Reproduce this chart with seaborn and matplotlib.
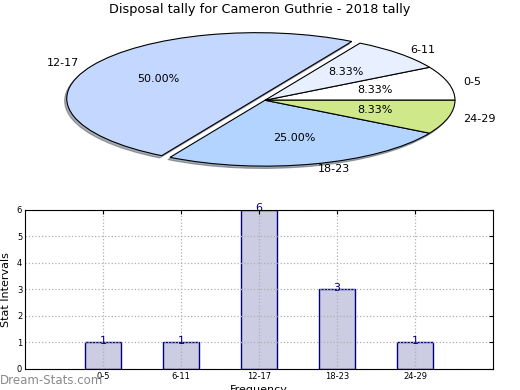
import matplotlib
matplotlib.use("Agg")
import matplotlib.pyplot as plt
import pandas as pd
import seaborn as sns

intervals = ["0-5", "6-11", "12-17", "18-23", "24-29"]
counts = [1, 1, 6, 3, 1]
pie_colors = ["#ffffff", "#e8f0ff", "#c4d8ff", "#b3d4ff", "#cfe88a"]
explode = [0, 0, 0.05, 0, 0]
title = "Disposal tally for Cameron Guthrie - 2018 tally"

sns.set_style("white")
plt.rcParams["font.family"] = ["DejaVu Sans"]
plt.rcParams["text.color"] = "black"
plt.rcParams["xtick.color"] = "black"
plt.rcParams["ytick.color"] = "black"
plt.rcParams["axes.labelcolor"] = "black"

fig = plt.figure(figsize=(5.2, 3.9), dpi=100)

# pie (ellipse: axes aspect not equal)
ax_pie = fig.add_axes([0.1442, 0.574, 0.7308, 0.338])
ax_pie.pie(counts, labels=intervals, colors=pie_colors, explode=explode,
           autopct="%.2f%%", pctdistance=0.6, labeldistance=1.08,
           startangle=0, counterclock=True,
           shadow={"ox": -0.008, "oy": -0.025, "shade": 0.6},
           wedgeprops={"edgecolor": "black", "linewidth": 0.8},
           textprops={"fontsize": 8})
ax_pie.set_xlim(-1, 1)
ax_pie.set_ylim(-1, 1)
ax_pie.set_aspect("auto")
ax_pie.axis("off")
fig.text(0.5, 0.975, title, ha="center", va="center", fontsize=9.3)

# bar chart
df = pd.DataFrame({"interval": intervals, "count": counts})
ax = fig.add_axes([0.048, 0.054, 0.9, 0.408])
sns.barplot(data=df, x="interval", y="count", color="#ccccE3", saturation=1,
            edgecolor="#000080", linewidth=1, width=0.46, ax=ax)
for i, v in enumerate(counts):
    ax.annotate(str(v), (i, v), xytext=(0, -2.5), textcoords="offset points",
                ha="center", va="bottom", color="#000080", fontsize=8)
ax.set_xlim(-1, 5)
ax.set_ylim(0, 6)
ax.set_yticks(range(7))
ax.grid(True, linestyle=":", color="#b0b0b0", linewidth=0.9)
ax.set_axisbelow(False)
ax.tick_params(labelsize=6, direction="in", length=3, top=True, right=True, pad=2)
for s in ax.spines.values():
    s.set_color("black")
    s.set_linewidth(0.8)
    s.set_zorder(3)
ax.set_ylabel("Stat Intervals", fontsize=8, labelpad=4)
ax.set_xlabel("Frequency", fontsize=8, labelpad=3)
fig.text(0.0, 0.025, "Dream-Stats.com", ha="left", va="center", fontsize=8.5,
         color="#8a8a8a")

fig.savefig("out.png", dpi=100)
